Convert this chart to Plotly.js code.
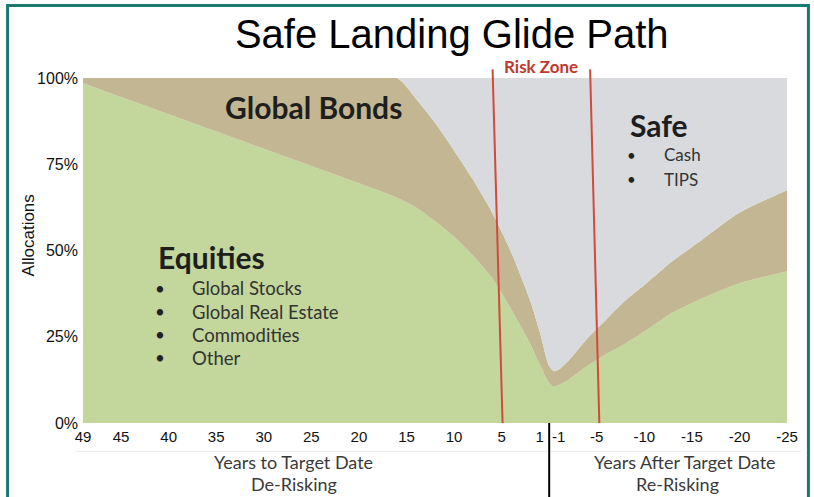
<!DOCTYPE html>
<html>
<head>
<meta charset="utf-8">
<script src="https://cdn.plot.ly/plotly-3.0.1.min.js"></script>
<style>
  html, body { margin: 0; padding: 0; background: #ffffff; }
  #chart { width: 814px; height: 497px; }
</style>
</head>
<body>
<div id="chart"></div>
<script>
// Years to target date (positive) / after target date (negative)
const years    = [49, 40, 30, 20, 16, 14, 12, 10, 8, 6, 4, 2, 1, 0, -0.5, -1, -2, -4, -6, -8, -10, -13, -16, -20, -25];
// Allocation shares (%)
const equities = [98.5, 89.5, 79.5, 69.5, 65.3, 62.5, 58.5, 54, 48.5, 42, 33, 23, 17, 11.5, 10.5, 11, 12.5, 16.5, 20, 23, 26.5, 32, 36, 40.5, 44];
const bonds    = [1.5, 10.5, 20.5, 30.5, 34.7, 31.5, 28.5, 25, 22, 19, 16.5, 12.5, 9.5, 5, 4.5, 4.5, 5.5, 8, 10, 12.5, 13.5, 15, 17, 20.5, 23.5];
const safe     = [0, 0, 0, 0, 0, 6, 13, 21, 29.5, 39, 50.5, 64.5, 73.5, 83.5, 85, 84.5, 82, 75.5, 70, 64.5, 60, 53, 47, 39, 32.5];

const xTickVals  = [49, 45, 40, 35, 30, 25, 20, 15, 10, 5, 1, -1, -5, -10, -15, -20, -25];
const xTickText  = ['49', '45', '40', '35', '30', '25', '20', '15', '10', '5', '1', '-1', '-5', '-10', '-15', '-20', '-25'];
const yTickVals  = [0, 25, 50, 75, 100];
const yTickText  = ['0%', '25%', '50%', '75%', '100%'];
const riskZone   = [5, -5];
const targetYear = 0;

const equityItems = ['Global Stocks', 'Global Real Estate', 'Commodities', 'Other'];
const safeItems   = ['Cash', 'TIPS'];

const SANS = 'Liberation Sans, Arial, sans-serif';
const CAL  = 'Lato, Open Sans, sans-serif';

function areaTrace(name, ys, color) {
  return {
    x: years, y: ys, name: name, type: 'scatter', mode: 'lines',
    stackgroup: 'one', fillcolor: color,
    line: { width: 0, shape: 'spline', smoothing: 0.7, color: color },
    hoverinfo: 'x+y+name'
  };
}

const traces = [
  areaTrace('Equities', equities, '#c3d69b'),
  areaTrace('Global Bonds', bonds, '#c2b792'),
  areaTrace('Safe', safe, '#d9dadd')
];

const shapes = [];
// Risk zone boundaries (slightly tilted red lines)
riskZone.forEach(function (v, i) {
  const topOff = i === 0 ? 0.95 : 0.7;
  const botOff = i === 0 ? -0.1 : -0.27;
  shapes.push({
    type: 'line', xref: 'x', yref: 'paper',
    x0: v + topOff, y0: 1.025, x1: v + botOff, y1: 0,
    line: { color: '#cf4b3c', width: 2 }, layer: 'above'
  });
});
// Target date divider below the axis
shapes.push({
  type: 'line', xref: 'x', yref: 'paper',
  x0: targetYear, x1: targetYear, y0: 0, y1: -0.25,
  line: { color: '#000000', width: 2 }, layer: 'above'
});
// faint rule between tick labels and captions
shapes.push({
  type: 'line', xref: 'paper', yref: 'paper',
  x0: -0.01, x1: 1.02, y0: -0.082, y1: -0.082,
  line: { color: '#ececec', width: 1 }, layer: 'below'
});
// teal frame
shapes.push({
  type: 'rect', xref: 'paper', yref: 'paper',
  x0: -0.107, x1: 1.029, y0: -0.6, y1: 1.21,
  line: { color: '#1b7a70', width: 3 }, fillcolor: 'rgba(0,0,0,0)', layer: 'above'
});

const annotations = [];
function note(o) {
  annotations.push(Object.assign({ showarrow: false, xref: 'x', yref: 'y' }, o));
}

note({ text: '<b>Global Bonds</b>', x: 24.8, y: 91.5, xanchor: 'center', yanchor: 'middle',
       font: { family: CAL, size: 30, color: '#1e1e1e' } });
note({ text: '<b>Equities</b>', x: 41.3, y: 48, xanchor: 'left', yanchor: 'middle',
       font: { family: CAL, size: 30, color: '#1e1e1e' } });
equityItems.forEach(function (t, i) {
  const yv = 39 - i * 6.7;
  note({ text: '•', x: 40.9, y: yv, xanchor: 'center', yanchor: 'middle',
         font: { family: CAL, size: 17, color: '#222' } });
  note({ text: t, x: 37.8, y: yv, xanchor: 'left', yanchor: 'middle',
         font: { family: CAL, size: 18.5, color: '#333333' } });
});
note({ text: '<b>Safe</b>', x: -8.3, y: 86.4, xanchor: 'left', yanchor: 'middle',
       font: { family: CAL, size: 30, color: '#1e1e1e' } });
safeItems.forEach(function (t, i) {
  const yv = 77.7 - i * 7;
  note({ text: '•', x: -8.7, y: yv, xanchor: 'center', yanchor: 'middle',
         font: { family: CAL, size: 15, color: '#222' } });
  note({ text: t, x: -11.9, y: yv, xanchor: 'left', yanchor: 'middle',
         font: { family: CAL, size: 17, color: '#333333' } });
});
// Risk zone label
annotations.push({ text: '<b>Risk Zone</b>', xref: 'x', yref: 'paper', x: (riskZone[0] + riskZone[1]) / 2 + 0.9, y: 1.032,
  xanchor: 'center', yanchor: 'middle', showarrow: false,
  font: { family: CAL, size: 17, color: '#c0392b' } });
// Bottom captions
annotations.push({ text: 'Years to Target Date', xref: 'x', yref: 'paper', x: 26.85, y: -0.113,
  xanchor: 'center', yanchor: 'middle', showarrow: false, font: { family: CAL, size: 18, color: '#3a3a3a' } });
annotations.push({ text: 'De-Risking', xref: 'x', yref: 'paper', x: 26.85, y: -0.176,
  xanchor: 'center', yanchor: 'middle', showarrow: false, font: { family: CAL, size: 18, color: '#3a3a3a' } });
annotations.push({ text: 'Years After Target Date', xref: 'x', yref: 'paper', x: -14.3, y: -0.113,
  xanchor: 'center', yanchor: 'middle', showarrow: false, font: { family: CAL, size: 18, color: '#3a3a3a' } });
annotations.push({ text: 'Re-Risking', xref: 'x', yref: 'paper', x: -13.5, y: -0.176,
  xanchor: 'center', yanchor: 'middle', showarrow: false, font: { family: CAL, size: 18, color: '#3a3a3a' } });
// y-axis title
annotations.push({ text: 'Allocations', xref: 'paper', yref: 'paper', x: -0.076, y: 0.545,
  xanchor: 'center', yanchor: 'middle', textangle: -90, showarrow: false,
  font: { family: SANS, size: 17, color: '#111' } });

const layout = {
  width: 814, height: 497,
  margin: { l: 83, r: 26, t: 78, b: 74, pad: 0 },
  paper_bgcolor: '#ffffff', plot_bgcolor: '#ffffff',
  showlegend: false,
  title: {
    text: 'Safe Landing Glide Path',
    font: { family: SANS, size: 40, color: '#000000' },
    x: 0.555, xref: 'container', xanchor: 'center',
    y: 0.932, yref: 'container', yanchor: 'middle'
  },
  xaxis: {
    range: [49, -25.1], tickmode: 'array', tickvals: xTickVals, ticktext: xTickText,
    showgrid: false, zeroline: false, showline: false, ticks: '',
    tickfont: { family: SANS, size: 15, color: '#111' }, ticklabelstandoff: 3,
    automargin: false, fixedrange: true
  },
  yaxis: {
    range: [0, 100], tickmode: 'array', tickvals: yTickVals, ticktext: yTickText,
    showgrid: false, zeroline: false, showline: false, ticks: '',
    tickfont: { family: SANS, size: 16, color: '#111' }, ticklabelstandoff: 4,
    automargin: false, fixedrange: true
  },
  shapes: shapes,
  annotations: annotations
};

Plotly.newPlot('chart', traces, layout, { displayModeBar: false, staticPlot: true });
</script>
</body>
</html>
